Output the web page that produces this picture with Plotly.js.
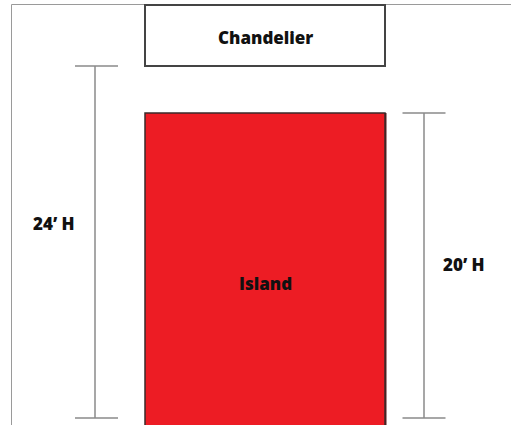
<!DOCTYPE html>
<html>
<head>
<meta charset="utf-8">
<script src="https://cdn.plot.ly/plotly-3.0.1.min.js"></script>
<style>html,body{margin:0;padding:0;background:#fff;}#chart{width:511px;height:425px;}</style>
</head>
<body>
<div id="chart"></div>
<script>
// Diagram content
const objectLabels = ["Chandelier", "Island"];
const heightsFeet = [24, 20];
const heightLabels = heightsFeet.map(h => h + "\u2019 H");

// Layout geometry (pixel-like coordinate system of the diagram)
const W = 511, H = 425;
const boxLeft = 145, boxRight = 385;
const chandTop = 5, chandBottom = 66;
const islandTop = 113, islandBottom = 430;
const floorY = 418;
const leftDimX = 95, rightDimX = 424, capHalf = 21.5;

const dimColor = "#8a8a8a";
const shapes = [
  // frame lines
  {type: "line", x0: 11.5, x1: W, y0: 4.5, y1: 4.5, line: {color: "#9a9a9a", width: 1}},
  {type: "line", x0: 11.5, x1: 11.5, y0: 4.5, y1: H + 5, line: {color: "#9a9a9a", width: 1}},
  // chandelier box
  {type: "rect", x0: boxLeft, x1: boxRight, y0: chandTop, y1: chandBottom, fillcolor: "#ffffff", line: {color: "#444444", width: 2}},
  // island shadow + box
  {type: "rect", x0: boxLeft, x1: boxRight + 1.5, y0: islandTop, y1: islandBottom, fillcolor: "#5a1a1a", line: {width: 0}},
  {type: "rect", x0: boxLeft, x1: boxRight, y0: islandTop, y1: islandBottom, fillcolor: "#ED1C24", line: {color: "#3a2a2a", width: 1.5}},
  // left dimension (chandelier height)
  {type: "line", x0: leftDimX, x1: leftDimX, y0: chandBottom, y1: floorY, line: {color: dimColor, width: 1.5}},
  {type: "line", x0: leftDimX - 20, x1: leftDimX + 23, y0: chandBottom, y1: chandBottom, line: {color: dimColor, width: 1.5}},
  {type: "line", x0: leftDimX - 20, x1: leftDimX + 23, y0: floorY, y1: floorY, line: {color: dimColor, width: 1.5}},
  // right dimension (island height)
  {type: "line", x0: rightDimX, x1: rightDimX, y0: islandTop, y1: floorY, line: {color: dimColor, width: 1.5}},
  {type: "line", x0: rightDimX - capHalf, x1: rightDimX + capHalf, y0: islandTop, y1: islandTop, line: {color: dimColor, width: 1.5}},
  {type: "line", x0: rightDimX - capHalf, x1: rightDimX + capHalf, y0: floorY, y1: floorY, line: {color: dimColor, width: 1.5}}
];

const font = {family: "'Open Sans', 'DejaVu Sans', sans-serif", size: 17, color: "#111111", weight: 800};
const annotations = [
  {x: (boxLeft + boxRight) / 2, y: 37, text: objectLabels[0]},
  {x: (boxLeft + boxRight) / 2, y: 283, text: objectLabels[1]},
  {x: 54, y: 223, text: heightLabels[0]},
  {x: 464, y: 264, text: heightLabels[1]}
].map(a => Object.assign(a, {xref: "x", yref: "y", showarrow: false, xanchor: "center", yanchor: "middle", font: font}));

const layout = {
  width: W, height: H,
  margin: {l: 0, r: 0, t: 0, b: 0},
  paper_bgcolor: "#ffffff", plot_bgcolor: "#ffffff",
  showlegend: false,
  xaxis: {range: [0, W], visible: false, fixedrange: true},
  yaxis: {range: [H, 0], visible: false, fixedrange: true},
  shapes: shapes,
  annotations: annotations
};

Plotly.newPlot("chart", [{x: [], y: [], type: "scatter", mode: "markers", hoverinfo: "skip"}], layout, {staticPlot: true, displayModeBar: false});
</script>
</body>
</html>
